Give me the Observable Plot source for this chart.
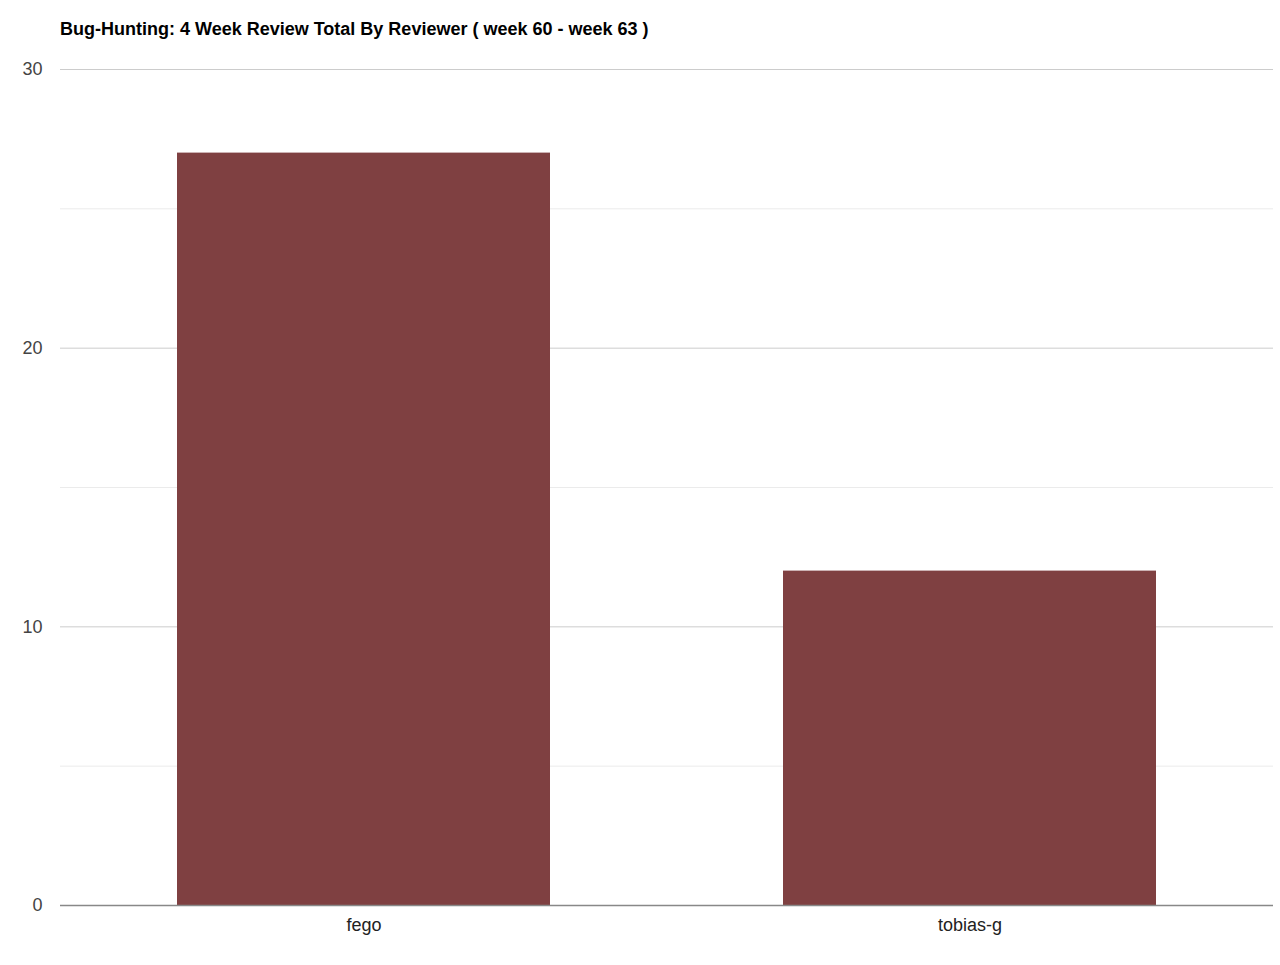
<!DOCTYPE html>
<html>
<head>
<meta charset="utf-8">
<script src="https://cdn.jsdelivr.net/npm/d3@7"></script>
<script src="https://cdn.jsdelivr.net/npm/@observablehq/plot@0.6"></script>
<style>
  html, body { margin: 0; padding: 0; background: #fff; }
  #title {
    height: 50px;
    box-sizing: border-box;
    padding: 18px 0 0 60px;
    font: bold 18px "Liberation Sans", Arial, sans-serif;
    color: #000;
    line-height: 22px;
  }
  #chart svg { display: block; }
</style>
</head>
<body>
<div id="title">Bug-Hunting: 4 Week Review Total By Reviewer ( week 60 - week 63 )</div>
<div id="chart"></div>
<script>
// Reviewers and their review totals for the four-week window
const reviewers = ["fego", "tobias-g"];
const totals = [27, 12];

// Y axis ticks (labelled) and the lighter in-between gridlines
const majorTicks = [0, 10, 20, 30];
const minorTicks = [5, 15, 25];

const data = reviewers.map((name, i) => ({ name, total: totals[i] }));

const barColor = "#7f4041";

const chart = Plot.plot({
  width: 1280,
  height: 915,
  marginTop: 19,
  marginBottom: 60,
  marginLeft: 60,
  marginRight: 7,
  style: { fontFamily: "'Liberation Sans', Arial, sans-serif", fontSize: "18px", background: "#fff" },
  x: { domain: reviewers, paddingInner: 0.385, paddingOuter: 0.1925, label: null },
  y: { domain: [0, 30], label: null },
  marks: [
    Plot.ruleY(minorTicks, { stroke: "#ebebeb", strokeWidth: 1 }),
    Plot.ruleY(majorTicks.filter(d => d !== 0), { stroke: "#cccccc", strokeWidth: 1 }),
    Plot.barY(data, { x: "name", y: "total", fill: barColor }),
    Plot.ruleY([0], { stroke: "#888888", strokeWidth: 1.5 }),
    Plot.axisY({ ticks: majorTicks, tickSize: 0, tickPadding: 18, color: "#444", label: null }),
    Plot.axisX({ tickSize: 0, tickPadding: 13, color: "#222", label: null })
  ]
});

document.getElementById("chart").appendChild(chart);
</script>
</body>
</html>
